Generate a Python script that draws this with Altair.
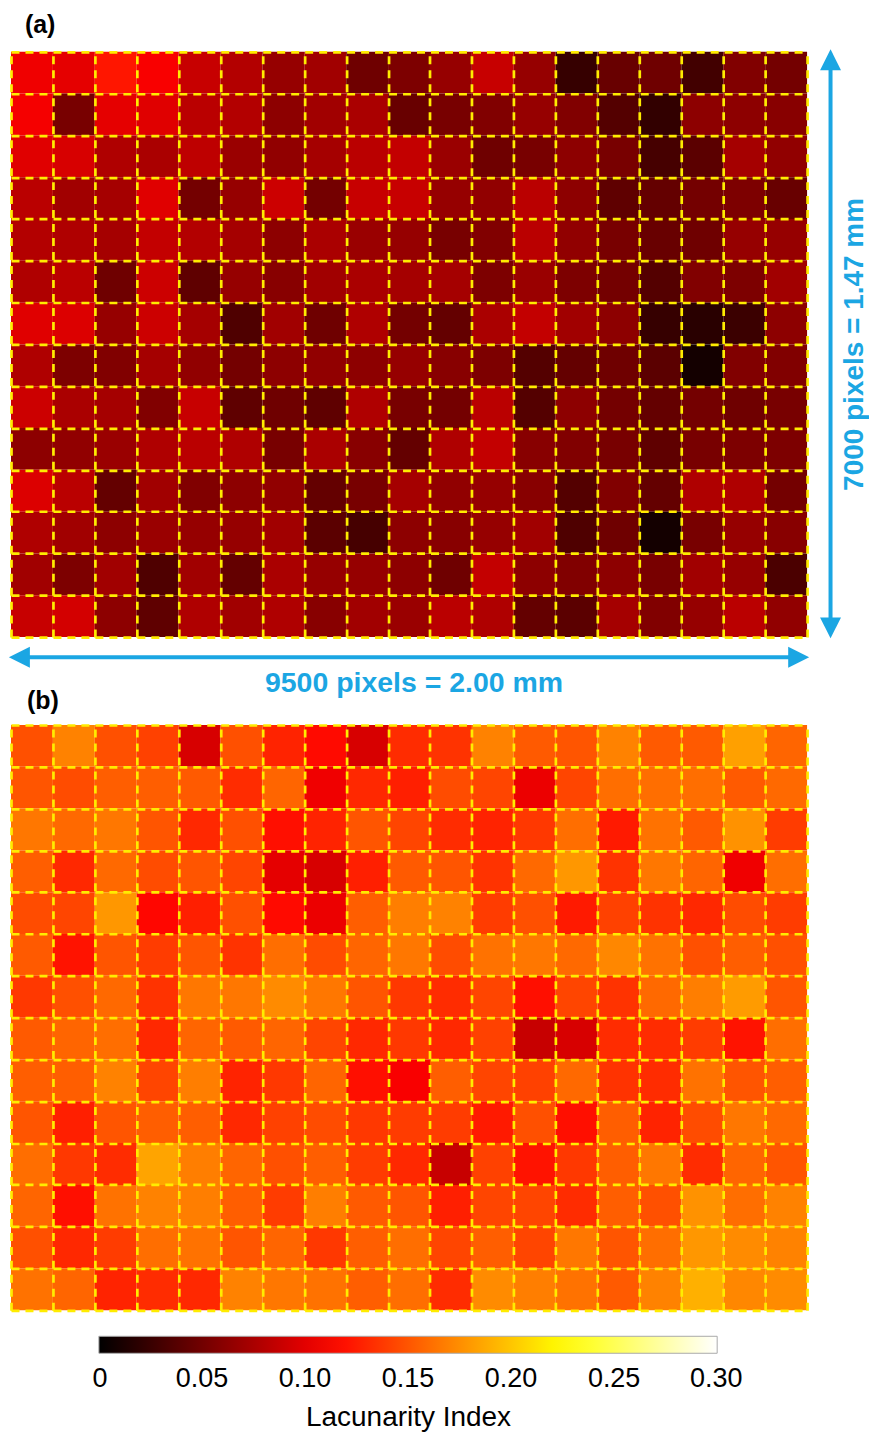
import altair as alt
import pandas as pd

NCOLS = 19
NROWS = 14

# Panel (a): lacunarity index per cell, rows top -> bottom, columns left -> right
a_row_01 = [0.106, 0.101, 0.122, 0.110, 0.088, 0.079, 0.066, 0.071, 0.049, 0.055, 0.066, 0.088, 0.066, 0.024, 0.046, 0.049, 0.029, 0.057, 0.051]
a_row_02 = [0.108, 0.053, 0.101, 0.099, 0.082, 0.079, 0.062, 0.071, 0.075, 0.046, 0.053, 0.057, 0.066, 0.057, 0.037, 0.022, 0.062, 0.062, 0.060]
a_row_03 = [0.099, 0.095, 0.077, 0.075, 0.084, 0.068, 0.064, 0.073, 0.082, 0.086, 0.068, 0.049, 0.053, 0.062, 0.053, 0.031, 0.040, 0.073, 0.064]
a_row_04 = [0.082, 0.071, 0.073, 0.099, 0.051, 0.066, 0.090, 0.051, 0.088, 0.088, 0.066, 0.064, 0.082, 0.062, 0.042, 0.044, 0.051, 0.055, 0.046]
a_row_05 = [0.079, 0.077, 0.073, 0.086, 0.079, 0.073, 0.062, 0.075, 0.068, 0.066, 0.053, 0.057, 0.082, 0.064, 0.053, 0.046, 0.049, 0.066, 0.066]
a_row_06 = [0.077, 0.082, 0.049, 0.090, 0.042, 0.066, 0.060, 0.071, 0.075, 0.073, 0.073, 0.055, 0.068, 0.055, 0.051, 0.037, 0.057, 0.055, 0.071]
a_row_07 = [0.099, 0.097, 0.066, 0.090, 0.073, 0.035, 0.071, 0.049, 0.077, 0.051, 0.044, 0.075, 0.086, 0.071, 0.062, 0.024, 0.018, 0.026, 0.062]
a_row_08 = [0.077, 0.055, 0.057, 0.073, 0.064, 0.051, 0.062, 0.064, 0.062, 0.066, 0.060, 0.055, 0.037, 0.044, 0.049, 0.040, 0.009, 0.057, 0.057]
a_row_09 = [0.090, 0.075, 0.073, 0.057, 0.088, 0.042, 0.049, 0.042, 0.077, 0.053, 0.051, 0.082, 0.037, 0.062, 0.051, 0.044, 0.051, 0.049, 0.053]
a_row_10 = [0.062, 0.064, 0.068, 0.077, 0.082, 0.077, 0.053, 0.075, 0.060, 0.044, 0.077, 0.086, 0.060, 0.057, 0.053, 0.042, 0.053, 0.055, 0.055]
a_row_11 = [0.097, 0.082, 0.044, 0.071, 0.057, 0.062, 0.064, 0.044, 0.053, 0.073, 0.064, 0.066, 0.060, 0.037, 0.057, 0.044, 0.077, 0.077, 0.051]
a_row_12 = [0.077, 0.071, 0.062, 0.068, 0.066, 0.066, 0.071, 0.040, 0.031, 0.062, 0.060, 0.066, 0.071, 0.035, 0.049, 0.009, 0.053, 0.066, 0.060]
a_row_13 = [0.071, 0.055, 0.071, 0.035, 0.071, 0.044, 0.075, 0.066, 0.066, 0.062, 0.049, 0.086, 0.062, 0.057, 0.062, 0.053, 0.071, 0.066, 0.033]
a_row_14 = [0.088, 0.093, 0.062, 0.042, 0.077, 0.071, 0.077, 0.060, 0.071, 0.068, 0.082, 0.077, 0.044, 0.040, 0.073, 0.057, 0.066, 0.082, 0.064]

# Panel (b)
b_row_01 = [0.148, 0.170, 0.148, 0.141, 0.095, 0.148, 0.128, 0.117, 0.095, 0.132, 0.135, 0.170, 0.152, 0.150, 0.170, 0.152, 0.152, 0.183, 0.157]
b_row_02 = [0.150, 0.146, 0.154, 0.154, 0.152, 0.132, 0.157, 0.106, 0.130, 0.126, 0.146, 0.143, 0.104, 0.143, 0.161, 0.161, 0.161, 0.152, 0.159]
b_row_03 = [0.165, 0.159, 0.165, 0.150, 0.130, 0.148, 0.119, 0.128, 0.150, 0.143, 0.132, 0.128, 0.137, 0.161, 0.124, 0.163, 0.152, 0.177, 0.139]
b_row_04 = [0.154, 0.130, 0.159, 0.146, 0.150, 0.143, 0.101, 0.095, 0.126, 0.152, 0.150, 0.135, 0.159, 0.179, 0.135, 0.165, 0.157, 0.106, 0.161]
b_row_05 = [0.146, 0.143, 0.179, 0.115, 0.126, 0.148, 0.117, 0.104, 0.154, 0.168, 0.170, 0.139, 0.148, 0.124, 0.141, 0.135, 0.130, 0.146, 0.139]
b_row_06 = [0.152, 0.121, 0.150, 0.139, 0.150, 0.135, 0.161, 0.146, 0.157, 0.165, 0.146, 0.163, 0.165, 0.159, 0.172, 0.163, 0.148, 0.154, 0.148]
b_row_07 = [0.137, 0.148, 0.159, 0.135, 0.165, 0.165, 0.174, 0.165, 0.150, 0.137, 0.132, 0.143, 0.119, 0.143, 0.135, 0.159, 0.168, 0.181, 0.150]
b_row_08 = [0.152, 0.157, 0.161, 0.130, 0.157, 0.152, 0.157, 0.143, 0.130, 0.137, 0.130, 0.141, 0.088, 0.095, 0.132, 0.132, 0.139, 0.121, 0.161]
b_row_09 = [0.154, 0.154, 0.170, 0.143, 0.168, 0.128, 0.137, 0.157, 0.119, 0.110, 0.154, 0.143, 0.141, 0.159, 0.135, 0.132, 0.163, 0.150, 0.154]
b_row_10 = [0.150, 0.126, 0.150, 0.154, 0.154, 0.130, 0.141, 0.146, 0.137, 0.139, 0.139, 0.124, 0.148, 0.119, 0.154, 0.128, 0.146, 0.165, 0.159]
b_row_11 = [0.161, 0.137, 0.132, 0.185, 0.168, 0.157, 0.148, 0.154, 0.139, 0.130, 0.088, 0.141, 0.121, 0.137, 0.154, 0.165, 0.132, 0.157, 0.150]
b_row_12 = [0.157, 0.119, 0.163, 0.170, 0.168, 0.154, 0.139, 0.168, 0.152, 0.150, 0.126, 0.143, 0.143, 0.132, 0.154, 0.148, 0.177, 0.161, 0.170]
b_row_13 = [0.148, 0.130, 0.139, 0.161, 0.163, 0.150, 0.157, 0.137, 0.154, 0.161, 0.143, 0.154, 0.143, 0.165, 0.150, 0.161, 0.179, 0.174, 0.170]
b_row_14 = [0.163, 0.157, 0.128, 0.132, 0.130, 0.170, 0.165, 0.163, 0.154, 0.161, 0.132, 0.174, 0.168, 0.163, 0.152, 0.170, 0.190, 0.172, 0.174]

PANEL_A = [a_row_01, a_row_02, a_row_03, a_row_04, a_row_05, a_row_06, a_row_07,
           a_row_08, a_row_09, a_row_10, a_row_11, a_row_12, a_row_13, a_row_14]
PANEL_B = [b_row_01, b_row_02, b_row_03, b_row_04, b_row_05, b_row_06, b_row_07,
           b_row_08, b_row_09, b_row_10, b_row_11, b_row_12, b_row_13, b_row_14]

# Colour bar ("hot" colormap)
CB_DOMAIN = [0.0, 0.1125, 0.225, 0.30]
CB_COLORS = ["#000000", "#ff0000", "#ffff00", "#ffffff"]
# end ticks nudged just inside the bar so their labels stay centred on the ends
CB_TICKS = [0.0005, 0.05, 0.10, 0.15, 0.20, 0.25, 0.2995]
CB_TITLE = "Lacunarity Index"

# Annotations
H_LABEL = "9500 pixels = 2.00 mm"
V_LABEL = "7000 pixels = 1.47 mm"

BLUE = "#1BA6E3"
GRID_YELLOW = "#FFEC00"
FONT = "Liberation Sans"


def cells(rows):
    recs = []
    for r, row in enumerate(rows):
        for c, v in enumerate(row):
            recs.append({"x0": c, "x1": c + 1, "y0": r, "y1": r + 1, "v": v})
    return pd.DataFrame(recs)


def grid_axis(n):
    return alt.Axis(values=list(range(n + 1)), grid=True, gridColor=GRID_YELLOW,
                    gridDash=[8, 6], gridWidth=2.7, gridOpacity=1, labels=False,
                    ticks=False, domain=False, title=None, zindex=1)


X_SCALE = alt.Scale(domain=[0, NCOLS], nice=False, zero=False)
Y_SCALE = alt.Scale(domain=[0, NROWS], reverse=True, nice=False, zero=False)

color_scale = alt.Scale(domain=CB_DOMAIN, range=CB_COLORS, interpolate="rgb")

legend = alt.Legend(
    title=CB_TITLE, orient="none", legendX=88, legendY=1286, direction="horizontal",
    gradientLength=619, gradientThickness=17, gradientStrokeColor="#AAAAAA",
    gradientStrokeWidth=1, titleOrient="bottom", titleAnchor="middle",
    titleFont=FONT, titleFontSize=28, titleFontWeight="normal", titleColor="black",
    titlePadding=12, titleLimit=600, values=CB_TICKS,
    labelExpr="datum.value < 0.001 ? '0' : format(datum.value, '.2f')",
    labelFont=FONT, labelFontSize=27, labelColor="black",
    labelOverlap=False, labelOffset=13, labelLimit=200, padding=0)


def heat(rows):
    return alt.Chart(cells(rows)).mark_rect(strokeWidth=0).encode(
        x=alt.X("x0:Q", scale=X_SCALE, axis=grid_axis(NCOLS)),
        x2="x1:Q",
        y=alt.Y("y0:Q", scale=Y_SCALE, axis=grid_axis(NROWS)),
        y2="y1:Q",
        color=alt.Color("v:Q", scale=color_scale, legend=legend),
    )


def xy(xf="x0:Q", yf="y0:Q"):
    return dict(x=alt.X(xf, scale=X_SCALE, axis=grid_axis(NCOLS)),
                y=alt.Y(yf, scale=Y_SCALE, axis=grid_axis(NROWS)))


# arrow shafts (chart units: columns / rows)
shafts = pd.DataFrame([
    {"x0": 0.20, "x1": 18.80, "y0": 14.48, "y1": 14.48},
    {"x0": 19.56, "x1": 19.56, "y0": 0.19, "y1": 13.78},
])
heads = pd.DataFrame([
    {"x0": -0.05, "y0": 14.48, "shape": "M0,0L2,-1L2,1Z"},
    {"x0": 19.05, "y0": 14.48, "shape": "M0,0L-2,-1L-2,1Z"},
    {"x0": 19.56, "y0": -0.06, "shape": "M0,0L-1,2L1,2Z"},
    {"x0": 19.56, "y0": 14.03, "shape": "M0,0L-1,-2L1,-2Z"},
])
h_text = pd.DataFrame([{"x0": 9.62, "y0": 15.09, "t": H_LABEL}])
v_text = pd.DataFrame([{"x0": 20.33, "y0": 7.0, "t": V_LABEL}])

shaft_layer = alt.Chart(shafts).mark_rule(color=BLUE, strokeWidth=4).encode(
    x2="x1:Q", y2="y1:Q", **xy())
head_layer = alt.Chart(heads).mark_point(filled=True, size=441, color=BLUE, opacity=1,
                                         strokeWidth=0).encode(
    shape=alt.Shape("shape:N", scale=None), **xy())
h_text_layer = alt.Chart(h_text).mark_text(
    color=BLUE, font=FONT, fontSize=28.5, fontWeight="bold", align="center",
    baseline="middle").encode(text="t:N", **xy())
v_text_layer = alt.Chart(v_text).mark_text(
    color=BLUE, font=FONT, fontSize=28, fontWeight="bold", align="center",
    baseline="alphabetic", angle=270).encode(text="t:N", **xy())


def panel_title(s):
    return alt.TitleParams(s, anchor="start", dx=16, fontSize=25, fontWeight="bold",
                           font=FONT, color="black", offset=11)


chart_a = alt.layer(heat(PANEL_A), shaft_layer, head_layer, h_text_layer,
                    v_text_layer).properties(width=797, height=586,
                                             title=panel_title("(a)"))
chart_b = heat(PANEL_B).properties(width=797, height=586, title=panel_title("(b)"))

chart = alt.vconcat(chart_a, chart_b, spacing=88, bounds="flush").resolve_scale(
    color="shared", x="independent", y="independent"
).configure_view(stroke=None).properties(
    padding={"left": 0, "top": 4, "right": 0, "bottom": 3})

chart.save("out.html", embed_options={"renderer": "svg", "actions": False})
